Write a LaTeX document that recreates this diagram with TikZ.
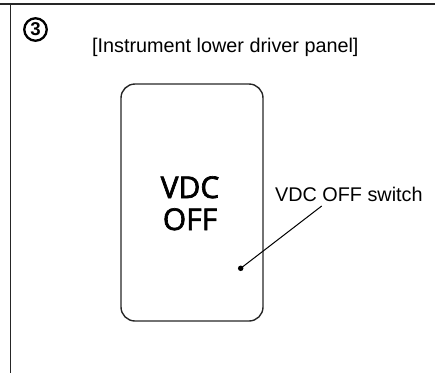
\documentclass[tikz,border=0pt]{standalone}
\usepackage{fontspec}
\setmainfont{Liberation Sans}
\newfontfamily\panelfont[FakeBold=2.2]{Open Sans}
\begin{document}
\begin{tikzpicture}[x=1pt,y=-1pt,
  frameline/.style={line width=1.3pt,draw=black!85},
  panelbox/.style={draw=black!85,line width=1.4pt,rounded corners=14pt},
  label/.style={font=\fontsize{19.8}{22}\selectfont,inner sep=0pt},
  lead/.style={line width=1pt},
]
\useasboundingbox (0,0) rectangle (436,373);
\draw[frameline] (0,4) -- (435,4);
\draw[frameline] (10.5,4) -- (10.5,373);
% circled 3
\node[circle,draw,line width=2.3pt,minimum size=22.5pt,inner sep=0pt,
  font=\bfseries\fontsize{18.6}{18.6}\selectfont] (num) at (35.5,29.5) {3};
\node[label,anchor=base west] (title) at (92,52) {[Instrument lower driver panel]};
\draw[panelbox] (121,84) rectangle (263,321);
\node[font=\panelfont\fontsize{30}{32}\selectfont,align=center,inner sep=0pt,anchor=base] (vdc) at (190,230) {VDC\\OFF};
\node[label,anchor=base west] (sw) at (275,201) {VDC OFF switch};
\node[circle,fill,inner sep=0pt,minimum size=5.5pt] (dot) at (240.7,268.3) {};
\coordinate (tip) at (321.7,206);
\draw[lead] (dot.center) -- (tip);
\end{tikzpicture}
\end{document}
